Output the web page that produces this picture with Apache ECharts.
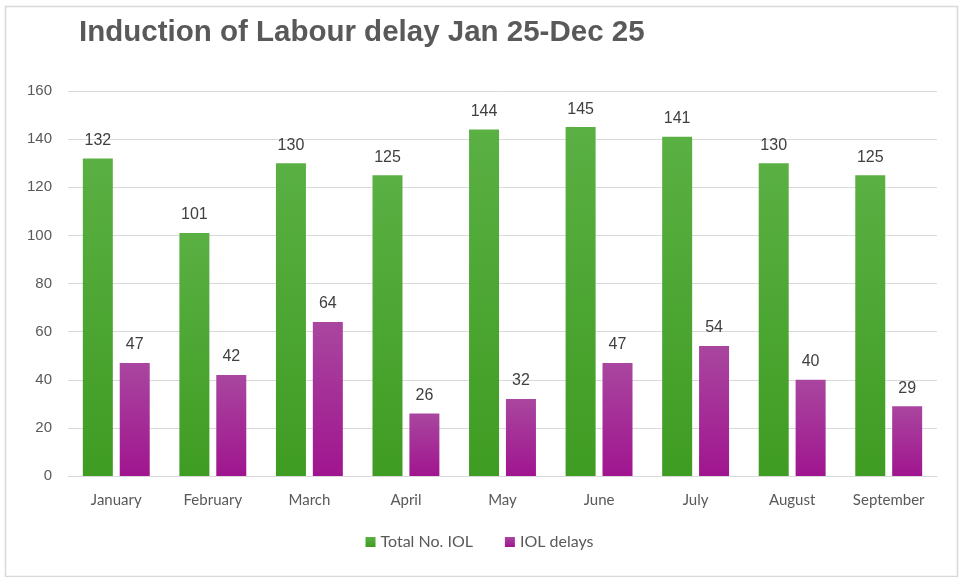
<!DOCTYPE html>
<html><head><meta charset="utf-8">
<script src="https://cdn.jsdelivr.net/npm/echarts@6/dist/echarts.min.js"></script>
<style>html,body{margin:0;padding:0;background:#fff}#c{width:959px;height:577px}</style>
</head><body><div id="c"></div>
<script>
const categories = ["January","February","March","April","May","June","July","August","September"];
const totalIOL = [132,101,130,125,144,145,141,130,125];
const iolDelays = [47,42,64,26,32,47,54,40,29];
const yTicks = [0,20,40,60,80,100,120,140,160];

const chart = echarts.init(document.getElementById('c'), null, {renderer:'canvas'});
const lbl = {show:true, position:'top', distance:10, color:'#404040', fontSize:16, fontFamily:'Liberation Sans, Arial, sans-serif'};
chart.setOption({
  animation:false,
  backgroundColor:'#fff',
  graphic:[{type:'rect', left:3, top:4, shape:{width:952, height:570}, style:{fill:'none', stroke:'#d9d9d9', lineWidth:1.5}, silent:true}],
  title:{text:'Induction of Labour delay Jan 25-Dec 25', left:74, top:13,
    textStyle:{fontFamily:'Liberation Sans Narrow, sans-serif', fontWeight:'bold', fontSize:29.5, color:'#595959'}},
  legend:{bottom:22, left:'center', itemWidth:10, itemGap:32, itemHeight:10, icon:'rect',
    textStyle:{color:'#595959', fontSize:16, fontFamily:'Lato, sans-serif'}},
  grid:{left:68, right:22, top:91, bottom:101},
  xAxis:{type:'category', data:categories,
    axisLine:{lineStyle:{color:'#d9d9d9'}}, axisTick:{show:false},
    axisLabel:{color:'#595959', fontSize:15, margin:17, fontFamily:'Lato, sans-serif'}},
  yAxis:{type:'value', min:yTicks[0], max:yTicks[yTicks.length-1], interval:20,
    axisLine:{show:false}, axisTick:{show:false},
    splitLine:{lineStyle:{color:'#d9d9d9'}},
    axisLabel:{color:'#595959', fontSize:15, margin:16, fontFamily:'Liberation Sans, Arial, sans-serif'}},
  series:[
    {name:'Total No. IOL', type:'bar', data:totalIOL, barWidth:30, barGap:'23%',
     itemStyle:{color:new echarts.graphic.LinearGradient(0,0,0,1,[{offset:0,color:'#5ab043'},{offset:1,color:'#3f9c22'}])},
     label:lbl},
    {name:'IOL delays', type:'bar', data:iolDelays, barWidth:30,
     itemStyle:{color:new echarts.graphic.LinearGradient(0,0,0,1,[{offset:0,color:'#a9469f'},{offset:1,color:'#a0158f'}])},
     label:lbl}
  ]
});
</script></body></html>
